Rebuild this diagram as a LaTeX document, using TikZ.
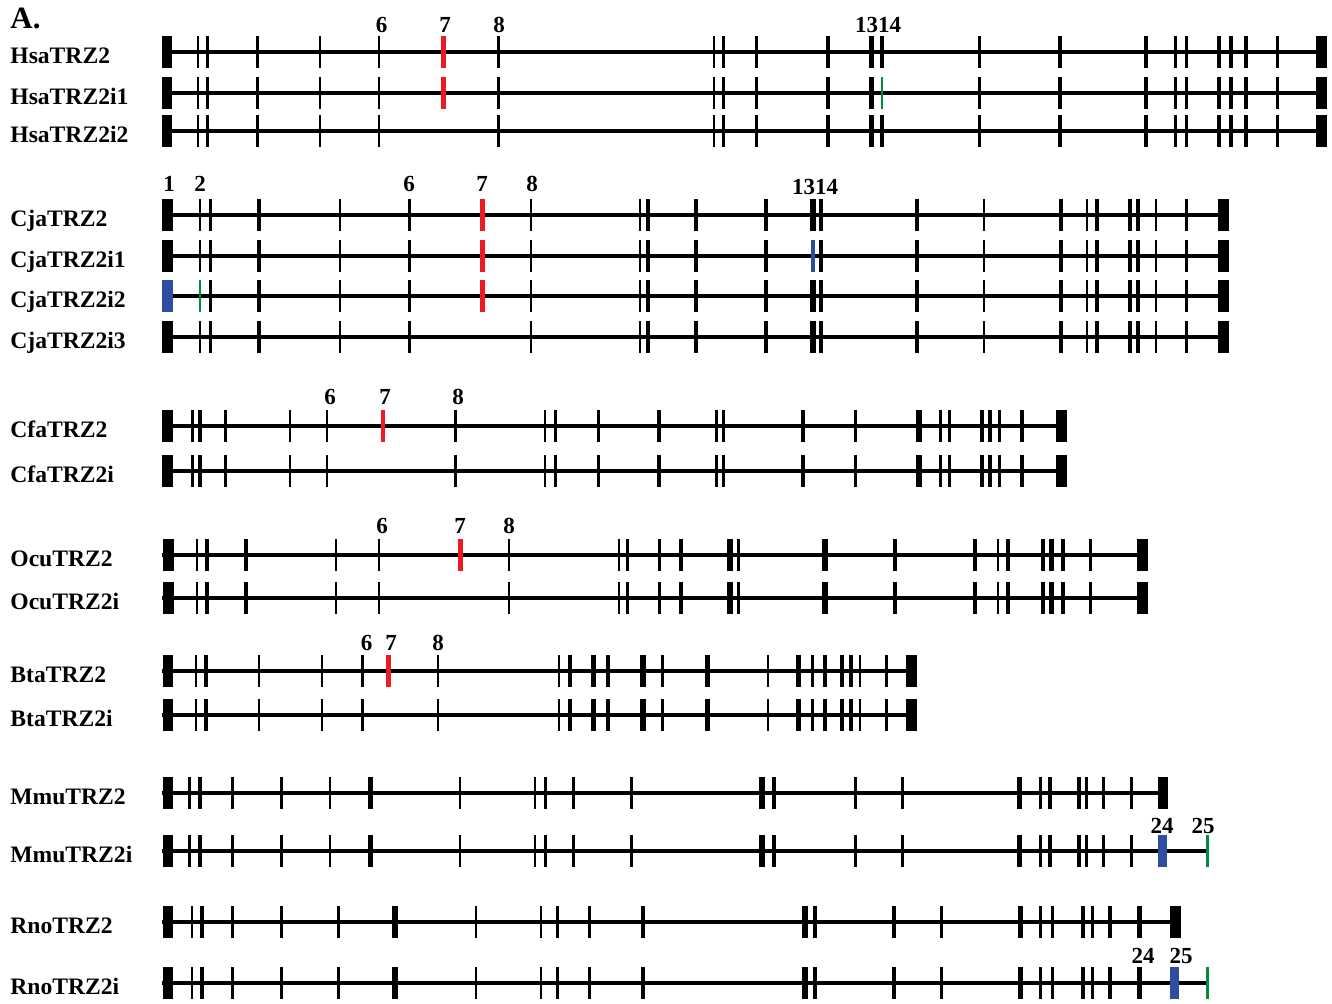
\documentclass[tikz,border=0pt]{standalone}
\usepackage{fontspec}
\setmainfont{Liberation Serif}
\definecolor{exred}{RGB}{237,28,36}
\definecolor{exblue}{RGB}{46,77,160}
\definecolor{exgreen}{RGB}{0,140,60}
\tikzset{
 intron/.style={line width=1.6pt,black},
 tn/.style={line width=1.15pt},
 tk/.style={line width=1.8pt},
 tx/.style={line width=2.8pt},
 bx/.style={line width=5.3pt},
 rd/.style={line width=2.4pt,exred},
 bl/.style={line width=2.3pt,exblue},
 bb/.style={line width=4.6pt,exblue},
 bbw/.style={line width=5.3pt,exblue},
 gn/.style={line width=1.1pt,exgreen},
 lab/.style={anchor=base west,inner sep=0pt,font=\fontsize{11.8}{14}\selectfont\bfseries},
 num/.style={anchor=base,inner sep=0pt,font=\fontsize{11.5}{14}\selectfont\bfseries},
}
\newcommand\generow[4]{\draw[intron] (#2,#1) -- (#3,#1);
 \foreach \p/\s in {#4} {\draw[\s] (\p,#1-16) -- (\p,#1+16);}}
\begin{document}
\begin{tikzpicture}[x=0.5pt,y=-0.5pt]
\useasboundingbox (0,0) rectangle (1332,1003);
\node[anchor=base west,inner sep=0pt,font=\fontsize{15.5}{18}\selectfont\bfseries] (A) at (10,28) {A.};
% ---------- Hsa
\generow{52}{162}{1326}{167/bx,198.2/tn,207.6/tk,257.3/tk,320.1/tn,378.8/tn,443.6/rd,498.5/tn,713.8/tn,723.4/tk,756.4/tk,828.2/tk,871.3/tx,882.2/tk,979.3/tk,1059.9/tk,1146.2/tk,1175.6/tk,1186.5/tk,1218.7/tk,1230.8/tk,1246.2/tk,1277.6/tk,1321.3/bx}
\generow{93}{162}{1326}{167/bx,198.2/tn,207.6/tk,257.3/tk,320.1/tn,378.8/tn,443.6/rd,498.5/tn,713.8/tn,723.4/tk,756.4/tk,828.2/tk,871.3/tx,882.2/gn,979.3/tk,1059.9/tk,1146.2/tk,1175.6/tk,1186.5/tk,1218.7/tk,1230.8/tk,1246.2/tk,1277.6/tk,1321.3/bx}
\generow{131}{162}{1326}{167/bx,198.2/tn,207.6/tk,257.3/tk,320.1/tn,378.8/tn,498.5/tn,713.8/tn,723.4/tk,756.4/tk,828.2/tk,871.3/tx,882.2/tk,979.3/tk,1059.9/tk,1146.2/tk,1175.6/tk,1186.5/tk,1218.7/tk,1230.8/tk,1246.2/tk,1277.6/tk,1321.3/bx}
\node[lab] (l1) at (10,63) {HsaTRZ2};
\node[lab] (l2) at (10,104) {HsaTRZ2i1};
\node[lab] (l3) at (10,142) {HsaTRZ2i2};
\node[num] (h6) at (381.5,32) {6};
\node[num] (h7) at (445,32) {7};
\node[num] (h8) at (499,32) {8};
\node[num] (h13) at (878,32) {1314};
% ---------- Cja
\generow{215}{162}{1228}{167.5/bx,200.2/tn,210.3/tk,258.7/tk,340.1/tn,409.6/tn,482.2/rd,530.9/tn,640/tn,648/tk,696/tk,766.2/tk,812.9/tx,820.7/tk,917.2/tk,984.1/tn,1061.1/tk,1087.2/tn,1096.9/tk,1130/tk,1137.8/tk,1156/tn,1186.4/tk,1223.7/bx}
\generow{256}{162}{1228}{167.5/bx,200.2/tn,210.3/tk,258.7/tk,340.1/tn,409.6/tn,482.2/rd,530.9/tn,640/tn,648/tk,696/tk,766.2/tk,812.9/bl,820.7/tk,917.2/tk,984.1/tn,1061.1/tk,1087.2/tn,1096.9/tk,1130/tk,1137.8/tk,1156/tn,1186.4/tk,1223.7/bx}
\generow{296}{162}{1228}{167.5/bbw,200.2/gn,210.3/tk,258.7/tk,340.1/tn,409.6/tn,482.2/rd,530.9/tn,640/tn,648/tk,696/tk,766.2/tk,812.9/tx,820.7/tk,917.2/tk,984.1/tn,1061.1/tk,1087.2/tn,1096.9/tk,1130/tk,1137.8/tk,1156/tn,1186.4/tk,1223.7/bx}
\generow{337}{162}{1228}{167.5/bx,200.2/tn,210.3/tk,258.7/tk,340.1/tn,409.6/tn,530.9/tn,640/tn,648/tk,696/tk,766.2/tk,812.9/tx,820.7/tk,917.2/tk,984.1/tn,1061.1/tk,1087.2/tn,1096.9/tk,1130/tk,1137.8/tk,1156/tn,1186.4/tk,1223.7/bx}
\node[lab] (l4) at (10,226) {CjaTRZ2};
\node[lab] (l5) at (10,267) {CjaTRZ2i1};
\node[lab] (l6) at (10,307) {CjaTRZ2i2};
\node[lab] (l7) at (10,348) {CjaTRZ2i3};
\node[num] (c1) at (169,191) {1};
\node[num] (c2) at (200,191) {2};
\node[num] (c6) at (409,191) {6};
\node[num] (c7) at (482,191) {7};
\node[num] (c8) at (532,191) {8};
\node[num] (c13) at (815,194) {1314};
% ---------- Cfa
\generow{426}{162}{1066}{167.7/bx,192.5/tn,200.1/tk,225.5/tk,289.8/tn,327/tn,383/rd,455.6/tn,545.3/tn,555.3/tk,598.4/tk,659.1/tk,716.4/tn,723.5/tk,803.1/tk,855.6/tk,918.7/tx,940.5/tn,949.4/tk,981.9/tk,990.1/tk,999.6/tk,1022/tk,1061.5/bx}
\generow{471}{162}{1066}{167.7/bx,192.5/tn,200.1/tk,225.5/tk,289.8/tn,327/tn,455.6/tn,545.3/tn,555.3/tk,598.4/tk,659.1/tk,716.4/tn,723.5/tk,803.1/tk,855.6/tk,918.7/tx,940.5/tn,949.4/tk,981.9/tk,990.1/tk,999.6/tk,1022/tk,1061.5/bx}
\node[lab] (l8) at (10,437) {CfaTRZ2};
\node[lab] (l9) at (10,482) {CfaTRZ2i};
\node[num] (f6) at (330,404) {6};
\node[num] (f7) at (385,404) {7};
\node[num] (f8) at (458,404) {8};
% ---------- Ocu
\generow{555}{162}{1147}{168.2/bx,196.8/tn,207/tk,246.2/tk,335.9/tn,378.8/tn,460.3/rd,509/tn,619.2/tn,627.6/tk,659.6/tk,680.8/tk,730.1/tx,738.5/tk,825/tx,894.9/tk,975/tk,998/tn,1007.7/tk,1043/tk,1051.3/tx,1062.8/tk,1090.4/tk,1142.3/bx}
\generow{598}{162}{1147}{168.2/bx,196.8/tn,207/tk,246.2/tk,335.9/tn,378.8/tn,509/tn,619.2/tn,627.6/tk,659.6/tk,680.8/tk,730.1/tx,738.5/tk,825/tx,894.9/tk,975/tk,998/tn,1007.7/tk,1043/tk,1051.3/tx,1062.8/tk,1090.4/tk,1142.3/bx}
\node[lab] (l10) at (10,566) {OcuTRZ2};
\node[lab] (l11) at (10,609) {OcuTRZ2i};
\node[num] (o6) at (382,533) {6};
\node[num] (o7) at (460,533) {7};
\node[num] (o8) at (509,533) {8};
% ---------- Bta
\generow{671}{162}{916}{168/bx,196/tn,205.9/tk,258.7/tn,322/tn,362.6/tn,388.8/rd,437.7/tn,559.3/tn,570.2/tk,593.4/tx,608.2/tk,642.8/tx,662.6/tk,707.6/tx,767.9/tn,798.5/tx,812.4/tn,824.7/tk,842/tk,851/tk,860.3/tn,886.5/tk,911.5/bx}
\generow{715}{162}{916}{168/bx,196/tn,205.9/tk,258.7/tn,322/tn,362.6/tn,437.7/tn,559.3/tn,570.2/tk,593.4/tx,608.2/tk,642.8/tx,662.6/tk,707.6/tx,767.9/tn,798.5/tx,812.4/tn,824.7/tk,842/tk,851/tk,860.3/tn,886.5/tk,911.5/bx}
\node[lab] (l12) at (10,682) {BtaTRZ2};
\node[lab] (l13) at (10,726) {BtaTRZ2i};
\node[num] (b6) at (366.5,650) {6};
\node[num] (b7) at (391,650) {7};
\node[num] (b8) at (438,650) {8};
% ---------- Mmu
\generow{793}{162}{1167}{168/bx,189.6/tn,200.2/tk,232.4/tk,281.5/tn,329.9/tn,370.3/tx,459.7/tn,535.1/tn,545.3/tk,573.4/tk,631.6/tk,761.8/tx,774/tk,855.4/tk,902.3/tk,1019.6/tx,1040.5/tn,1049.7/tk,1079/tk,1086.4/tk,1103.6/tk,1131.5/tk,1162.8/bx}
\generow{851}{162}{1207.4}{168/bx,189.6/tn,200.2/tk,232.4/tk,281.5/tn,329.9/tn,370.3/tx,459.7/tn,535.1/tn,545.3/tk,573.4/tk,631.6/tk,761.8/tx,774/tk,855.4/tk,902.3/tk,1019.6/tx,1040.5/tn,1049.7/tk,1079/tk,1086.4/tk,1103.6/tk,1131.5/tk,1162.5/bb,1207.4/gn}
\node[lab] (l14) at (10,804) {MmuTRZ2};
\node[lab] (l15) at (10,862) {MmuTRZ2i};
\node[num] (m24) at (1162,833) {24};
\node[num] (m25) at (1203,833) {25};
% ---------- Rno
\generow{922}{162}{1180}{168/bx,192.1/tn,201.9/tk,232.4/tk,281.5/tn,338.4/tn,394.8/tx,476.2/tn,541.1/tn,557.6/tk,589.5/tk,642.8/tk,805.1/tx,815/tk,893.9/tk,941.5/tn,1020.4/tx,1040.5/tn,1052.6/tk,1082.7/tk,1092.6/tk,1110.2/tk,1139.5/tx,1175.3/bx}
\generow{983}{162}{1207.4}{168/bx,192.1/tn,201.9/tk,232.4/tk,281.5/tn,338.4/tn,394.8/tx,476.2/tn,541.1/tn,557.6/tk,589.5/tk,642.8/tk,805.1/tx,815/tk,893.9/tk,941.5/tn,1020.4/tx,1040.5/tn,1052.6/tk,1082.7/tk,1092.6/tk,1110.2/tk,1139.5/tx,1174.4/bb,1207.4/gn}
\node[lab] (l16) at (10,933) {RnoTRZ2};
\node[lab] (l17) at (10,994) {RnoTRZ2i};
\node[num] (r24) at (1143,963) {24};
\node[num] (r25) at (1181,963) {25};
\end{tikzpicture}
\end{document}
